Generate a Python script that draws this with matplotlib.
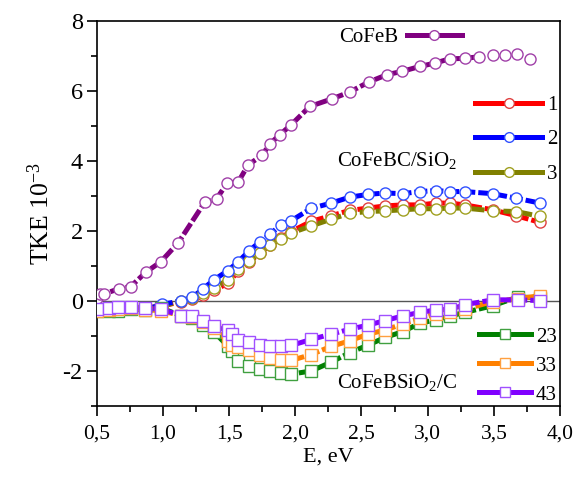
import matplotlib
matplotlib.use("Agg")
import matplotlib.pyplot as plt
from matplotlib.lines import Line2D
from matplotlib.ticker import MultipleLocator, FuncFormatter

# ---------------- data ----------------
E_cofeb = [0.50, 0.525, 0.556, 0.67, 0.757, 0.872, 0.985, 1.116, 1.315, 1.406, 1.486, 1.57, 1.644,
           1.75, 1.808, 1.883, 1.97, 2.11, 2.28, 2.41, 2.557, 2.696, 2.807, 2.94, 3.058, 3.167,
           3.28, 3.39, 3.49, 3.587, 3.675, 3.77]
tke_cofeb = [0.08, 0.2, 0.2, 0.35, 0.41, 0.82, 1.12, 1.66, 2.81, 2.92, 3.36, 3.4, 3.88,
             4.16, 4.48, 4.74, 5.03, 5.55, 5.77, 5.96, 6.25, 6.46, 6.55, 6.69, 6.79, 6.91,
             6.92, 6.97, 7.01, 7.01, 7.05, 6.91]
cofeb_line_n = 28  # points joined by the line

E_sio2 = [0.5, 0.6, 0.75, 0.87, 0.99, 1.14, 1.22, 1.3, 1.385, 1.49, 1.57, 1.65, 1.73, 1.81, 1.89,
          1.97, 2.12, 2.27, 2.41, 2.55, 2.68, 2.81, 2.94, 3.06, 3.17, 3.28, 3.49, 3.67, 3.85]
tke_1 = [-0.25, -0.22, -0.2, -0.2, -0.15, -0.02, 0.05, 0.17, 0.3, 0.5, 0.85, 1.1, 1.36, 1.6, 1.8,
         1.98, 2.27, 2.43, 2.58, 2.65, 2.71, 2.74, 2.74, 2.79, 2.79, 2.74, 2.6, 2.43, 2.24]
tke_2 = [-0.25, -0.2, -0.2, -0.25, -0.1, 0.0, 0.1, 0.33, 0.6, 0.86, 1.12, 1.42, 1.68, 1.9, 2.17,
         2.29, 2.64, 2.79, 2.96, 3.04, 3.08, 3.06, 3.12, 3.15, 3.12, 3.12, 3.06, 2.93, 2.79]
tke_3 = [-0.25, -0.28, -0.2, -0.22, -0.15, 0.0, 0.08, 0.22, 0.36, 0.6, 0.9, 1.13, 1.38, 1.6, 1.78,
         1.94, 2.14, 2.33, 2.5, 2.55, 2.57, 2.6, 2.63, 2.63, 2.65, 2.65, 2.57, 2.55, 2.41]

E_c = [0.5, 0.59, 0.66, 0.76, 0.865, 0.985, 1.136, 1.217, 1.3, 1.385, 1.49, 1.52, 1.57, 1.65, 1.73,
       1.81, 1.89, 1.97, 2.12, 2.27, 2.41, 2.55, 2.68, 2.81, 2.94, 3.06, 3.17, 3.28, 3.49, 3.68, 3.85]
tke_43 = [-0.23, -0.21, -0.18, -0.18, -0.21, -0.23, -0.42, -0.42, -0.56, -0.73, -0.83, -0.95, -1.11,
          -1.16, -1.26, -1.3, -1.3, -1.27, -1.1, -0.95, -0.81, -0.69, -0.56, -0.43, -0.33, -0.26,
          -0.24, -0.11, 0.03, 0.03, 0.01]
tke_33 = [-0.3, -0.25, -0.22, -0.2, -0.25, -0.28, -0.42, -0.45, -0.6, -0.78, -1.15, -1.26, -1.32,
          -1.4, -1.54, -1.64, -1.69, -1.7, -1.53, -1.3, -1.14, -0.95, -0.83, -0.66, -0.5, -0.37,
          -0.32, -0.24, -0.02, 0.06, 0.15]
tke_23 = [-0.3, -0.3, -0.28, -0.22, -0.25, -0.2, -0.42, -0.48, -0.7, -0.88, -1.29, -1.42, -1.71,
          -1.86, -1.95, -2.0, -2.05, -2.09, -2.0, -1.75, -1.48, -1.26, -1.04, -0.88, -0.64, -0.54,
          -0.43, -0.33, -0.14, 0.11, 0.09]

x_ticks = [0.5, 1.0, 1.5, 2.0, 2.5, 3.0, 3.5, 4.0]
y_ticks = [-2, 0, 2, 4, 6, 8]

# ---------------- style ----------------
plt.rcParams['font.family'] = ['Liberation Serif', 'DejaVu Serif']
plt.rcParams['mathtext.fontset'] = 'custom'
plt.rcParams['mathtext.rm'] = 'Liberation Serif'
plt.rcParams['mathtext.it'] = 'Liberation Serif:italic'

LW = 3.6
DASH = (0, (2.6, 0.6))
MS = 8

fig = plt.figure(figsize=(5.84, 4.90), dpi=100)
ax = fig.add_axes([0.1656, 0.1714, 0.7934, 0.7866])


def series(x, y, line_c, edge_c, marker, nline=None):
    n = len(x) if nline is None else nline
    ax.plot(x[:n], y[:n], color=line_c, lw=LW, linestyle=DASH, zorder=2)
    ax.plot(x, y, linestyle='none', marker=marker, ms=MS, mfc='white', mec=edge_c,
            mew=1.0, zorder=3)


ax.axhline(0, color='#555555', lw=1.0, zorder=1)

series(E_cofeb, tke_cofeb, '#800080', '#a040a8', 'o', cofeb_line_n)
series(E_sio2, tke_1, '#ff0000', '#e04040', 'o')
series(E_sio2, tke_3, '#808000', '#a0a020', 'o')
series(E_sio2, tke_2, '#0000ff', '#3050ff', 'o')
series(E_c, tke_23, '#008000', '#40a040', 's')
series(E_c, tke_33, '#ff8000', '#ffa040', 's')
series(E_c, tke_43, '#8000ff', '#a050ff', 's')

ax.set_xlim(0.5, 4.0)
ax.set_ylim(-3, 8)
ax.set_xticks(x_ticks)
ax.xaxis.set_minor_locator(MultipleLocator(0.25))
ax.set_yticks(y_ticks)
ax.yaxis.set_minor_locator(MultipleLocator(1))
ax.xaxis.set_major_formatter(FuncFormatter(lambda v, p: f"{v:.1f}".replace('.', ',')))
ax.yaxis.set_major_formatter(FuncFormatter(lambda v, p: f"{int(round(v))}"))
ax.tick_params(which='both', direction='out', top=False, right=False, width=1.2, color='black')
ax.tick_params(which='major', length=7)
ax.tick_params(which='minor', length=4)
ax.tick_params(axis='x', labelsize=15.5, pad=6)
ax.tick_params(axis='y', labelsize=17.5, pad=3)
for s in ax.spines.values():
    s.set_linewidth(1.2)

ax.set_xlabel('E, eV', fontsize=16, labelpad=3)
ax.set_ylabel('TKE 10$^{-3}$', fontsize=18.5, labelpad=6)


def handle(line_c, edge_c, marker):
    return Line2D([], [], color=line_c, lw=LW, linestyle='-', marker=marker, ms=MS - 1,
                  mfc='white', mec=edge_c, mew=1.0)


leg_kw = dict(frameon=False, fontsize=15, borderpad=0, borderaxespad=0, handletextpad=0.25,
              loc='center')

l0 = ax.legend([handle('#800080', '#a040a8', 'o')], ['CoFeB'], markerfirst=False,
               handlelength=2.6, bbox_to_anchor=(0.655, 0.956), **{**leg_kw, 'handletextpad': 0.45})
ax.add_artist(l0)

l1 = ax.legend([handle('#ff0000', '#e04040', 'o'), handle('#0000ff', '#3050ff', 'o'),
                handle('#808000', '#a0a020', 'o')], ['1', '2', '3'],
               handlelength=3.2, labelspacing=0.72, bbox_to_anchor=(0.906, 0.691), **leg_kw)
ax.add_artist(l1)

l2 = ax.legend([handle('#008000', '#40a040', 's'), handle('#ff8000', '#ffa040', 's'),
                handle('#8000ff', '#a050ff', 's')], ['23', '33', '43'],
               handlelength=2.5, labelspacing=0.45, bbox_to_anchor=(0.909, 0.104), **leg_kw)

ax.text(0.519, 0.6225, 'CoFeBC/SiO$_2$', transform=ax.transAxes, fontsize=15,
        ha='left', va='baseline')
ax.text(0.519, 0.046, 'CoFeBSiO$_2$/C', transform=ax.transAxes, fontsize=15,
        ha='left', va='baseline')

fig.savefig('out.png', dpi=100)
